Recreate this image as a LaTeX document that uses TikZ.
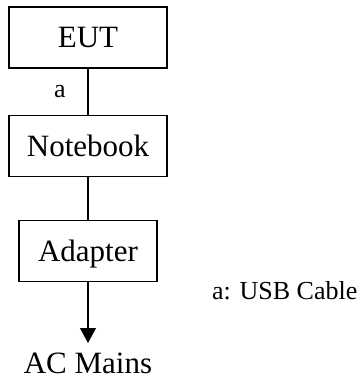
\documentclass[tikz,border=0pt]{standalone}
\usepackage{fontspec}
\setmainfont{Liberation Serif}
\usetikzlibrary{arrows.meta}

\tikzset{
  unit/.style={draw, line width=1.2pt, minimum height=61pt, inner sep=0pt,
    text height=20pt, text depth=0pt, font=\fontsize{31}{36}\selectfont},
  lbl/.style={inner sep=0pt, font=\fontsize{26}{30}\selectfont},
}

\begin{document}
\begin{tikzpicture}[x=1pt,y=-1pt]
      \useasboundingbox (0,0) rectangle (362,380);

      \begin{scope}[every node/.style={unit}]
        \node[minimum width=158pt] (eut) at (88,37.5) {EUT};
        \node[minimum width=158pt] (nb)  at (88,146)  {Notebook};
        \node[minimum width=138pt] (ad)  at (88,251)  {Adapter};
      \end{scope}

      \node[anchor=north, inner xsep=0pt, inner ysep=10pt, text height=20pt,
        text depth=0pt, font=\fontsize{31}{36}\selectfont] (ac) at (88,343) {AC Mains};

      \node[lbl, anchor=base] (a) at (60,97) {a};
      \node[lbl, anchor=base west] (key) at (212,299) {a: USB Cable};

      \begin{scope}[every edge/.style={draw, line width=1.2pt}]
        \path (eut) edge (nb);
        \path (nb)  edge (ad);
        \path (ad)  edge[-{Triangle[width=16pt,length=15pt]}] (ac);
      \end{scope}

    \end{tikzpicture}
\end{document}
